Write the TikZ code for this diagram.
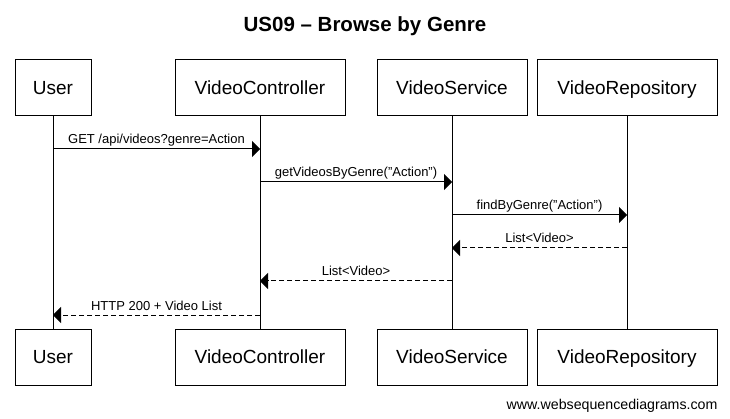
\documentclass[tikz,border=0pt]{standalone}
\usepackage{fontspec}
\setmainfont{Liberation Sans}
\usetikzlibrary{arrows.meta}
\newcommand{\boxheight}{56pt}
\tikzstyle{participant}=[draw, line width=1pt, inner sep=0, minimum height=\boxheight, text height=13.6pt, text depth=1pt, font=\fontsize{19}{22}\selectfont]
\tikzstyle{lifeline}=[line width=1pt]
\tikzstyle{call}=[line width=1pt, -{Triangle[length=8pt, width=16pt]}]
\tikzstyle{reply}=[call, dash pattern=on 5pt off 3pt]
\tikzstyle{msglabel}=[anchor=base, yshift=5pt, inner sep=0, font=\fontsize{13}{15}\selectfont]

\begin{document}
\begin{tikzpicture}[x=1pt, y=-1pt]
    \useasboundingbox (0, 0) rectangle (730, 419);
    \node[anchor=base, font=\bfseries\fontsize{20.5}{24}\selectfont] (title) at (365, 32) {US09 – Browse by Genre};

    % participants, top and bottom
    \node[participant, minimum width=76pt]  (user) at (53, 88) {User};
    \node[participant, minimum width=170pt] (ctrl) at (260, 88) {VideoController};
    \node[participant, minimum width=150pt] (svc)  at (452, 88) {VideoService};
    \node[participant, minimum width=180pt] (repo) at (627, 88) {VideoRepository};
    \node[participant, minimum width=76pt]  (userB) at (53, 357) {User};
    \node[participant, minimum width=170pt] (ctrlB) at (260, 357) {VideoController};
    \node[participant, minimum width=150pt] (svcB)  at (452, 357) {VideoService};
    \node[participant, minimum width=180pt] (repoB) at (627, 357) {VideoRepository};

    \draw[lifeline] (user) -- (userB);
    \draw[lifeline] (ctrl) -- (ctrlB);
    \draw[lifeline] (svc) -- (svcB);
    \draw[lifeline] (repo) -- (repoB);

    \draw[call]  (user |- 0, 149) -- node[msglabel] {GET /api/videos?genre=Action} (ctrl |- 0, 149);
    \draw[call]  (ctrl |- 0, 182) -- node[msglabel] {getVideosByGenre("Action")} (svc |- 0, 182);
    \draw[call]  (svc |- 0, 215) -- node[msglabel] {findByGenre("Action")} (repo |- 0, 215);
    \draw[reply] (repo |- 0, 248) -- node[msglabel] {List<Video>} (svc |- 0, 248);
    \draw[reply] (svc |- 0, 281) -- node[msglabel] {List<Video>} (ctrl |- 0, 281);
    \draw[reply] (ctrl |- 0, 315) -- node[msglabel] {HTTP 200 + Video List} (user |- 0, 315);

    \node[anchor=base east, font=\fontsize{14.2}{16}\selectfont] (footer) at (721, 409) {www.websequencediagrams.com};
\end{tikzpicture}
\end{document}
